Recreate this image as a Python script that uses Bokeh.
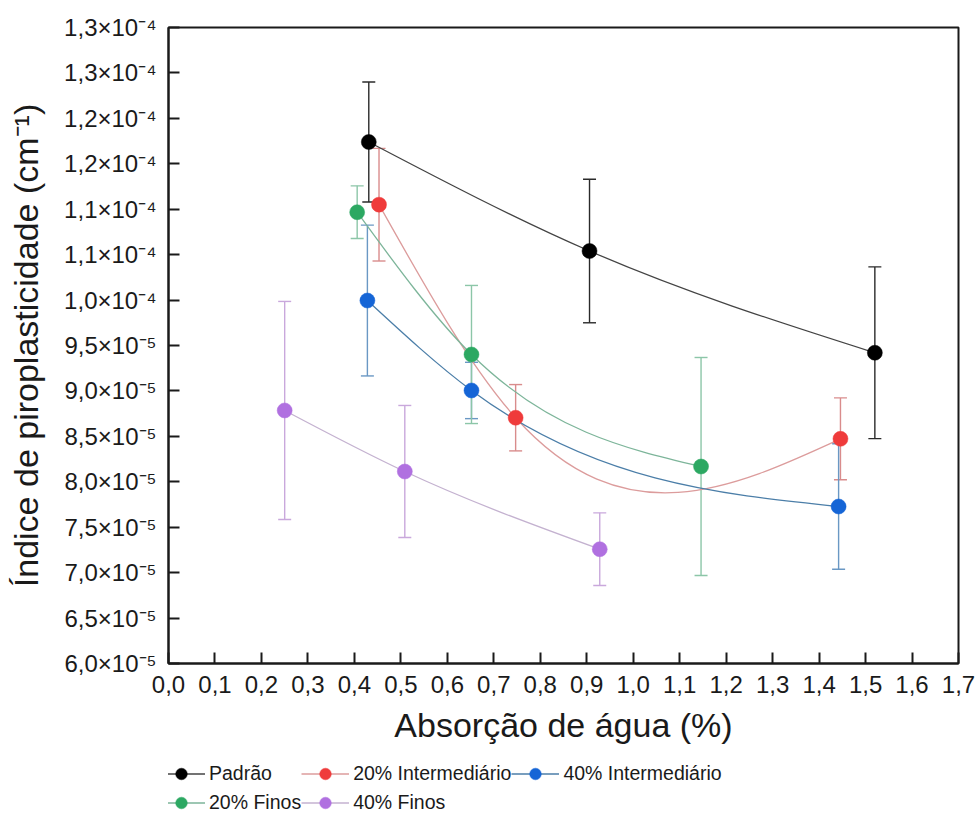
import numpy as np
from bokeh.plotting import figure
from bokeh.layouts import column
from bokeh.models import (FixedTicker, CustomJSTickFormatter, Whisker, TeeHead,
                          ColumnDataSource, Legend, LegendItem, Range1d)
from bokeh.embed import file_html
from bokeh.resources import INLINE

# ---------------- data ----------------
series_names = ["Padrão", "20% Intermediário", "40% Intermediário", "20% Finos", "40% Finos"]

x_padrao = [0.431, 0.906, 1.520]
y_padrao = [1.174e-4, 1.054e-4, 9.42e-5]
e_padrao = [0.66e-5, 0.79e-5, 0.945e-5]

x_int20 = [0.453, 0.747, 1.446]
y_int20 = [1.105e-4, 8.705e-5, 8.473e-5]
e_int20 = [0.62e-5, 0.365e-5, 0.45e-5]

x_int40 = [0.428, 0.652, 1.442]
y_int40 = [9.995e-5, 9.005e-5, 7.728e-5]
e_int40 = [0.83e-5, 0.31e-5, 0.69e-5]

x_fin20 = [0.406, 0.652, 1.146]
y_fin20 = [1.0967e-4, 9.401e-5, 8.168e-5]
e_fin20 = [0.29e-5, 0.76e-5, 1.2e-5]

x_fin40 = [0.250, 0.5085, 0.928]
y_fin40 = [8.785e-5, 8.113e-5, 7.258e-5]
e_fin40 = [1.2e-5, 0.727e-5, 0.40e-5]

x_ticks = [0.0, 0.1, 0.2, 0.3, 0.4, 0.5, 0.6, 0.7, 0.8, 0.9, 1.0, 1.1, 1.2, 1.3, 1.4, 1.5, 1.6, 1.7]
x_tick_labels = ["0,0", "0,1", "0,2", "0,3", "0,4", "0,5", "0,6", "0,7", "0,8", "0,9",
                 "1,0", "1,1", "1,2", "1,3", "1,4", "1,5", "1,6", "1,7"]
y_ticks = [6.0e-5, 6.5e-5, 7.0e-5, 7.5e-5, 8.0e-5, 8.5e-5, 9.0e-5, 9.5e-5,
           1.0e-4, 1.05e-4, 1.10e-4, 1.15e-4, 1.20e-4, 1.25e-4, 1.30e-4]
y_tick_labels = ["6,0×10⁻⁵", "6,5×10⁻⁵", "7,0×10⁻⁵", "7,5×10⁻⁵", "8,0×10⁻⁵", "8,5×10⁻⁵",
                 "9,0×10⁻⁵", "9,5×10⁻⁵", "1,0×10⁻⁴", "1,1×10⁻⁴", "1,1×10⁻⁴", "1,2×10⁻⁴",
                 "1,2×10⁻⁴", "1,3×10⁻⁴", "1,3×10⁻⁴"]

# ---------------- styles ----------------
marker_colors = ["#000000", "#ef3b3b", "#1565d6", "#2ca862", "#b070e0"]
line_colors = ["#444444", "#dc9c9c", "#4b7ea8", "#7db59a", "#c4b2d0"]
err_colors = ["#2a2a2a", "#d98c8c", "#6a98c4", "#8cc6a8", "#c9a8dc"]
FONT = "Liberation Sans"


def spline_bezier(x, y):
    """Natural cubic spline through the points, expressed as cubic Bezier segments."""
    x = np.asarray(x, float)
    y = np.asarray(y, float)
    n = len(x)
    h = np.diff(x)
    d = np.diff(y) / h
    A = np.zeros((n, n))
    r = np.zeros(n)
    A[0, 0] = 1.0
    A[-1, -1] = 1.0
    for i in range(1, n - 1):
        A[i, i - 1] = h[i - 1]
        A[i, i] = 2 * (h[i - 1] + h[i])
        A[i, i + 1] = h[i]
        r[i] = 6 * (d[i] - d[i - 1])
    M = np.linalg.solve(A, r)
    m = np.zeros(n)
    for i in range(n - 1):
        m[i] = d[i] - h[i] * (2 * M[i] + M[i + 1]) / 6
    m[-1] = d[-1] + h[-1] * (M[-2] + 2 * M[-1]) / 6
    return dict(x0=x[:-1], y0=y[:-1], x1=x[1:], y1=y[1:],
                cx0=x[:-1] + h / 3, cy0=y[:-1] + m[:-1] * h / 3,
                cx1=x[1:] - h / 3, cy1=y[1:] - m[1:] * h / 3)


p = figure(width=978, height=756, output_backend="svg", toolbar_location=None,
           x_range=Range1d(0.0, 1.7), y_range=Range1d(6.0e-5, 1.3e-4),
           min_border_left=168, min_border_right=20, min_border_top=27, min_border_bottom=93)
p.background_fill_color = "white"
p.border_fill_color = "white"
p.grid.visible = False
p.outline_line_color = "#1a1a1a"
p.outline_line_width = 2

for ax in (p.xaxis[0], p.yaxis[0]):
    ax.axis_line_color = "#1a1a1a"
    ax.axis_line_width = 2
    ax.major_tick_line_color = "#1a1a1a"
    ax.major_tick_line_width = 2
    ax.major_tick_in = 11
    ax.major_tick_out = 0
    ax.minor_tick_line_color = None
    ax.major_label_text_font = FONT
    ax.major_label_text_font_size = "24px"
    ax.major_label_text_color = "#1a1a1a"
    ax.axis_label_text_font = FONT
    ax.axis_label_text_font_style = "normal"
    ax.axis_label_text_font_size = "34px"
    ax.axis_label_text_color = "#1a1a1a"
    ax.major_label_standoff = 12

fmt_code = """
let best = 0, bd = Infinity;
for (let i = 0; i < tvals.length; i++) {
  const dd = Math.abs(tvals[i] - tick);
  if (dd < bd) { bd = dd; best = i; }
}
return tlabels[best];
"""
p.xaxis[0].ticker = FixedTicker(ticks=x_ticks)
p.xaxis[0].formatter = CustomJSTickFormatter(args=dict(tvals=x_ticks, tlabels=x_tick_labels), code=fmt_code)
p.yaxis[0].ticker = FixedTicker(ticks=y_ticks)
p.yaxis[0].formatter = CustomJSTickFormatter(args=dict(tvals=y_ticks, tlabels=y_tick_labels), code=fmt_code)
p.xaxis[0].axis_label = "Absorção de água (%)"
p.yaxis[0].axis_label = "Índice de piroplasticidade (cm⁻¹)"
p.xaxis[0].axis_label_standoff = 10
p.yaxis[0].axis_label_standoff = 16

all_x = [x_padrao, x_int20, x_int40, x_fin20, x_fin40]
all_y = [y_padrao, y_int20, y_int40, y_fin20, y_fin40]
all_e = [e_padrao, e_int20, e_int40, e_fin20, e_fin40]

# error bars
for xs, ys, es, ec in zip(all_x, all_y, all_e, err_colors):
    ya = np.asarray(ys)
    ea = np.asarray(es)
    src = ColumnDataSource(dict(x=xs, upper=ya + ea, lower=ya - ea))
    w = Whisker(source=src, base="x", upper="upper", lower="lower", dimension="height",
                line_color=ec, line_width=1.4, level="underlay",
                upper_head=TeeHead(size=13, line_color=ec, line_width=1.4),
                lower_head=TeeHead(size=13, line_color=ec, line_width=1.4))
    p.add_layout(w)

# smooth connecting curves
for xs, ys, lc in zip(all_x, all_y, line_colors):
    p.bezier(source=ColumnDataSource(spline_bezier(xs, ys)), x0="x0", y0="y0", x1="x1", y1="y1",
             cx0="cx0", cy0="cy0", cx1="cx1", cy1="cy1", line_color=lc, line_width=1.3)

# markers
for xs, ys, mc in zip(all_x, all_y, marker_colors):
    p.scatter(xs, ys, size=15, fill_color=mc, line_color=mc, line_width=0.5)

# ---------------- legend strip below the chart ----------------
q = figure(width=978, height=66, output_backend="svg", toolbar_location=None,
           x_range=Range1d(0, 1), y_range=Range1d(0, 1),
           x_axis_location=None, y_axis_location=None,
           min_border_left=0, min_border_right=0, min_border_top=0, min_border_bottom=0)
q.grid.visible = False
q.outline_line_color = None
q.background_fill_color = "white"
q.border_fill_color = "white"

items = []
for name, mc, lc in zip(series_names, marker_colors, line_colors):
    ln = q.line([-10, -9], [-10, -9], line_color=lc, line_width=1.3)
    sc = q.scatter([-10], [-10], size=15, fill_color=mc, line_color=mc, line_width=0.5)
    items.append(LegendItem(label=name, renderers=[ln, sc]))

legend = Legend(items=items, orientation="horizontal", ncols=3, location=(-11, 5),
                glyph_width=48, glyph_height=29, label_standoff=4, spacing=0, padding=0, margin=0,
                label_text_font=FONT, label_text_font_size="19.5px", label_text_color="#1a1a1a",
                label_height=29, border_line_color=None, background_fill_alpha=0)
q.add_layout(legend, "center")

layout = column(p, q, spacing=0)
open("out.html", "w").write(file_html(layout, INLINE))
